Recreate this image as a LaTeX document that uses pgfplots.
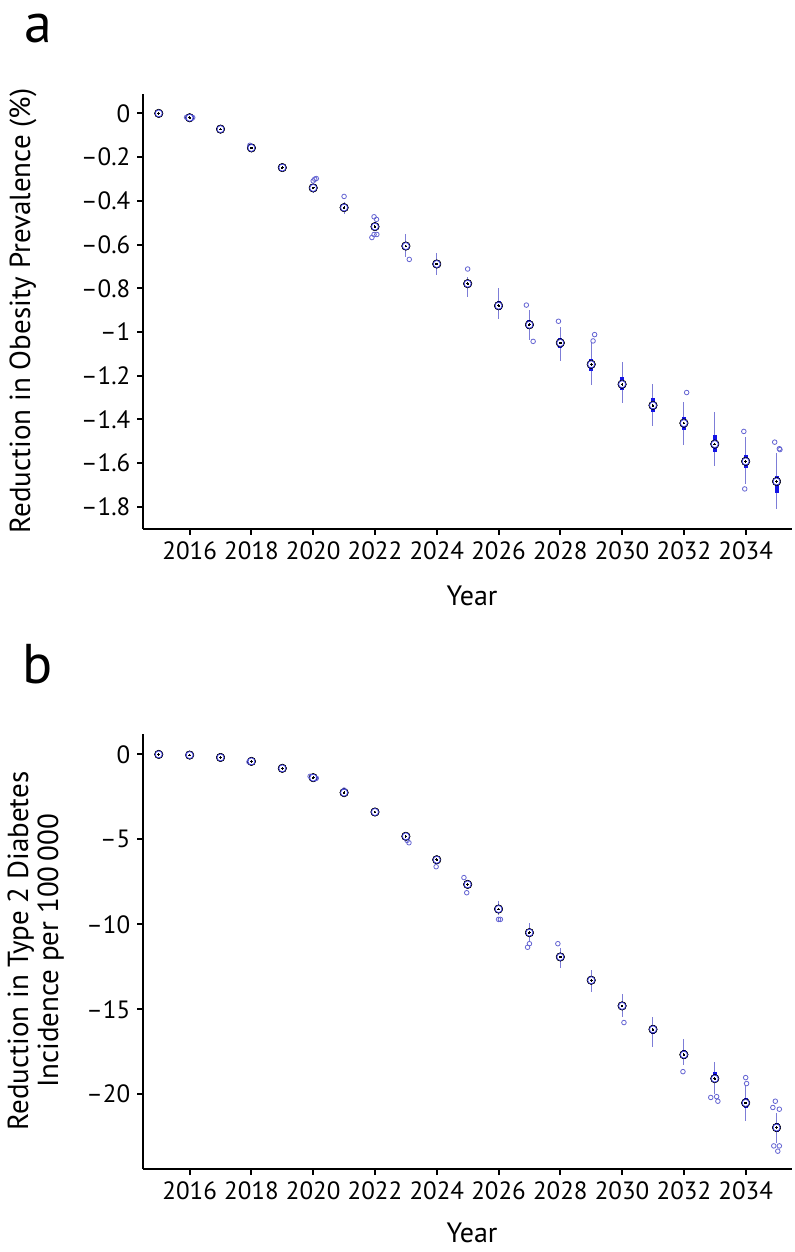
\documentclass[border=0pt]{standalone}
\usepackage{fontspec}
\setmainfont{PT Sans}
\usepackage{pgfplots}
\pgfplotsset{compat=1.18}
\usepackage{pgfplotstable}

\definecolor{whisk}{RGB}{125,125,215}
\definecolor{boxc}{RGB}{20,20,230}
\definecolor{outl}{RGB}{100,100,210}
\definecolor{medc}{RGB}{60,60,225}

% panel a: year, median, box (qt,qb), whiskers (top,bot)
\pgfplotstableread{
yr   med    qt     qb     top    bot
2015 0      0      0      0.002  -0.002
2016 -0.020 -0.018 -0.022 -0.015 -0.025
2017 -0.072 -0.070 -0.074 -0.067 -0.077
2018 -0.158 -0.156 -0.160 -0.152 -0.163
2019 -0.248 -0.245 -0.251 -0.237 -0.257
2020 -0.341 -0.335 -0.347 -0.322 -0.364
2021 -0.431 -0.425 -0.437 -0.405 -0.462
2022 -0.518 -0.512 -0.525 -0.497 -0.538
2023 -0.607 -0.598 -0.616 -0.553 -0.656
2024 -0.689 -0.680 -0.698 -0.641 -0.740
2025 -0.779 -0.768 -0.790 -0.747 -0.842
2026 -0.880 -0.858 -0.900 -0.800 -0.942
2027 -0.967 -0.945 -0.986 -0.900 -1.037
2028 -1.050 -1.026 -1.072 -0.979 -1.135
2029 -1.148 -1.123 -1.177 -1.044 -1.242
2030 -1.239 -1.208 -1.266 -1.138 -1.326
2031 -1.336 -1.303 -1.368 -1.237 -1.428
2032 -1.417 -1.388 -1.450 -1.321 -1.519
2033 -1.513 -1.470 -1.548 -1.367 -1.611
2034 -1.592 -1.562 -1.621 -1.479 -1.695
2035 -1.684 -1.661 -1.737 -1.553 -1.810
}\boxA

\pgfplotstableread{
x       y
2015.90 -0.018
2015.95 -0.021
2016.03 -0.017
2016.07 -0.022
2016.10 -0.019
2017.95 -0.146
2020.00 -0.309
2020.05 -0.301
2020.10 -0.298
2021.00 -0.380
2021.97 -0.473
2022.05 -0.485
2021.90 -0.568
2021.97 -0.554
2022.06 -0.554
2023.11 -0.668
2025.00 -0.712
2026.90 -0.877
2027.12 -1.043
2027.94 -0.951
2029.06 -1.041
2029.11 -1.012
2032.09 -1.277
2033.94 -1.455
2033.97 -1.718
2034.94 -1.504
2035.09 -1.534
2035.11 -1.538
}\outA

% panel b
\pgfplotstableread{
yr   med    qt     qb     top    bot
2015 0      0      0      0.03   -0.03
2016 -0.04  -0.02  -0.06  0.00   -0.08
2017 -0.18  -0.16  -0.20  -0.14  -0.22
2018 -0.41  -0.39  -0.43  -0.37  -0.45
2019 -0.82  -0.80  -0.84  -0.77  -0.87
2020 -1.37  -1.34  -1.40  -1.30  -1.44
2021 -2.25  -2.22  -2.28  -2.15  -2.35
2022 -3.39  -3.36  -3.42  -3.32  -3.46
2023 -4.82  -4.76  -4.88  -4.63  -5.06
2024 -6.20  -6.13  -6.27  -5.96  -6.41
2025 -7.65  -7.57  -7.73  -7.45  -7.95
2026 -9.10  -9.02  -9.18  -8.63  -9.47
2027 -10.49 -10.40 -10.58 -9.90  -11.04
2028 -11.92 -11.83 -12.02 -11.37 -12.57
2029 -13.29 -13.10 -13.49 -12.67 -13.98
2030 -14.80 -14.57 -15.00 -14.08 -15.47
2031 -16.18 -15.90 -16.47 -15.47 -17.22
2032 -17.67 -17.41 -17.94 -16.75 -18.29
2033 -19.08 -18.71 -19.29 -18.12 -19.96
2034 -20.51 -20.24 -20.82 -19.45 -21.57
2035 -21.96 -21.69 -22.22 -21.08 -22.84
}\boxB

\pgfplotstableread{
x       y
2015.95 -0.03
2016.03 -0.06
2016.00 -0.05
2017.92 -0.44
2017.96 -0.38
2018.03 -0.45
2019.90 -1.29
2019.97 -1.33
2020.07 -1.43
2020.10 -1.40
2021.00 -2.10
2023.04 -5.06
2023.10 -5.20
2023.98 -6.61
2024.88 -7.25
2024.97 -8.14
2026.00 -9.71
2026.06 -9.71
2027.00 -11.14
2026.94 -11.35
2027.92 -11.14
2030.06 -15.78
2031.97 -18.67
2032.87 -20.19
2033.06 -20.14
2033.10 -20.41
2034.00 -19.02
2034.03 -19.37
2034.96 -20.41
2034.88 -20.78
2035.09 -20.88
2034.91 -23.04
2035.09 -23.04
2035.04 -23.35
}\outB

\pgfplotsset{
  common/.style={
    scale only axis, width=324.35pt, height=217.5pt,
    xmin=2014.5, xmax=2035.5,
    axis x line*=bottom, axis y line*=left,
    axis line style={line width=1pt, black},
    tick align=outside, major tick length=3pt,
    tick style={line width=1pt, black},
    xtick={2016,2018,...,2034},
    xticklabels={2016,2018,2020,2022,2024,2026,2028,2030,2032,2034},
    ticklabel style={font=\fontsize{12.5}{15}\selectfont},
    clip=false,
  },
  whiskplot/.style={only marks, mark=none,
    error bars/.cd, y dir=both, y explicit, error mark=none,
    error bar style={line width=0.5pt, color=whisk}},
  boxplot/.style={only marks, mark=none,
    error bars/.cd, y dir=both, y explicit, error mark=none,
    error bar style={line width=2pt, color=boxc}},
  medplot/.style={only marks, mark=*, mark size=1.75pt,
    mark options={fill=white, draw=medc, line width=0.35pt}},
  dotplot/.style={only marks, mark=*, mark size=0.4pt,
    mark options={fill=black, draw=black, line width=0pt}},
  outplot/.style={only marks, mark=o, mark size=1.15pt,
    mark options={draw=outl, line width=0.4pt}},
}

\begin{document}
\begin{tikzpicture}
\useasboundingbox (0pt,0pt) rectangle (397pt,-626pt);

\begin{axis}[common, at={(71.65pt,-264.35pt)}, anchor=south west,
  ymin=-1.9, ymax=0.09,
  ytick={0,-0.2,-0.4,-0.6,-0.8,-1,-1.2,-1.4,-1.6,-1.8},
  yticklabels={0,–0.2,–0.4,–0.6,–0.8,–1,–1.2,–1.4,–1.6,–1.8}]
\addplot[whiskplot] table[x=yr, y=med, y error plus expr=\thisrow{top}-\thisrow{med}, y error minus expr=\thisrow{med}-\thisrow{bot}] {\boxA};
\addplot[boxplot] table[x=yr, y=med, y error plus expr=\thisrow{qt}-\thisrow{med}, y error minus expr=\thisrow{med}-\thisrow{qb}] {\boxA};
\addplot[outplot] table[x=x, y=y] {\outA};
\addplot[medplot] table[x=yr, y=med] {\boxA};
\addplot[dotplot] table[x=yr, y=med] {\boxA};
\end{axis}

\begin{axis}[common, at={(71.65pt,-584.5pt)}, anchor=south west,
  ymin=-24.4, ymax=1.2,
  ytick={0,-5,-10,-15,-20},
  yticklabels={0,–5,–10,–15,–20}]
\addplot[whiskplot] table[x=yr, y=med, y error plus expr=\thisrow{top}-\thisrow{med}, y error minus expr=\thisrow{med}-\thisrow{bot}] {\boxB};
\addplot[boxplot] table[x=yr, y=med, y error plus expr=\thisrow{qt}-\thisrow{med}, y error minus expr=\thisrow{med}-\thisrow{qb}] {\boxB};
\addplot[outplot] table[x=x, y=y] {\outB};
\addplot[medplot] table[x=yr, y=med] {\boxB};
\addplot[dotplot] table[x=yr, y=med] {\boxB};
\end{axis}

\begin{scope}[x=0.5pt, y=-0.5pt]
\node[font=\fontsize{28}{32}\selectfont] at (38,29) {a};
\node[font=\fontsize{28}{32}\selectfont] at (38,664) {b};
\node[font=\fontsize{14}{17}\selectfont, anchor=base] at (472,605) {Year};
\node[font=\fontsize{14}{17}\selectfont, anchor=base] at (472,1242) {Year};
\node[font=\fontsize{14.5}{18}\selectfont, rotate=90, anchor=base] at (30,311) {Reduction in Obesity Prevalence (\%)};
\node[font=\fontsize{14.5}{18}\selectfont, rotate=90, anchor=base] at (28,951) {Reduction in Type 2 Diabetes};
\node[font=\fontsize{14.5}{18}\selectfont, rotate=90, anchor=base] at (58,951) {Incidence per 100\,000};
\end{scope}
\end{tikzpicture}
\end{document}
